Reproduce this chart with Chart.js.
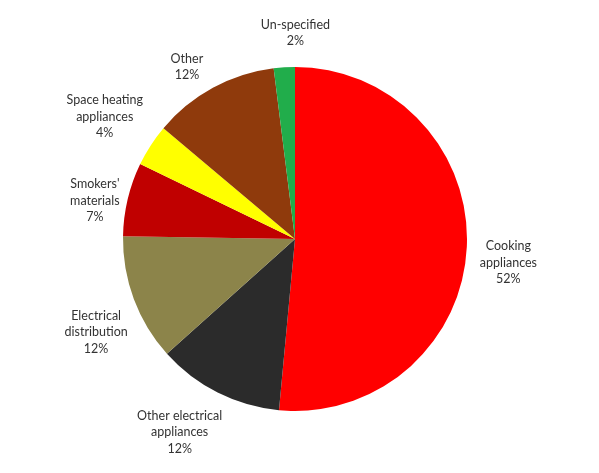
<!DOCTYPE html>
<html lang="en">
  <head>
    <meta charset="UTF-8" />
    <title>Causes of fires</title>
    <script src="https://cdn.jsdelivr.net/npm/chart.js"></script>
    <style>
      html, body {
        margin: 0;
        padding: 0;
        background: #ffffff;
      }
      #chart {
        display: block;
      }
    </style>
  </head>
  <body>
    <canvas id="chart" width="599" height="473"></canvas>

    <script>
      // Slices clockwise from 12 o'clock
      const categories = [
        ["Cooking", "appliances"],
        ["Other electrical", "appliances"],
        ["Electrical", "distribution"],
        ["Smokers'", "materials"],
        ["Space heating", "appliances"],
        ["Other"],
        ["Un-specified"]
      ];
      const shares = [52, 12, 12, 7, 4, 12, 2];
      const sliceColors = [
        "#ff0000",
        "#2b2b2b",
        "#8c844a",
        "#c00000",
        "#ffff00",
        "#8f3a0c",
        "#21ad4b"
      ];

      // Small hand nudges for each label, as in the original layout
      const labelNudges = [
        [0, 14],
        [-13, 6],
        [4, 20],
        [4, 10],
        [-3, -8],
        [-12, 5],
        [14, -5]
      ];

      // Draws the "name / NN%" labels just outside each slice
      const outsideLabels = {
        id: "outsideLabels",
        afterDatasetsDraw(chart, args, opts) {
          const ctx = chart.ctx;
          const meta = chart.getDatasetMeta(0);
          const lineH = opts.lineHeight;
          ctx.save();
          ctx.font = opts.font;
          ctx.fillStyle = opts.color;
          ctx.textAlign = "center";
          ctx.textBaseline = "middle";
          meta.data.forEach((arc, i) => {
            const lines = categories[i].concat([shares[i] + "%"]);
            const w = Math.max(...lines.map(t => ctx.measureText(t).width));
            const h = lines.length * lineH;
            const mid = (arc.startAngle + arc.endAngle) / 2;
            const cos = Math.cos(mid);
            const sin = Math.sin(mid);
            const r = arc.outerRadius + opts.gap;
            const nudge = labelNudges[i] || [0, 0];
            const cx = arc.x + cos * r + cos * w / 2 + nudge[0];
            const cy = arc.y + sin * r + sin * h / 2 + nudge[1];
            lines.forEach((t, k) => {
              ctx.fillText(t, cx, cy - h / 2 + lineH * (k + 0.5));
            });
          });
          ctx.restore();
        }
      };

      new Chart(document.getElementById("chart"), {
        type: "pie",
        data: {
          labels: categories.map(c => c.join(" ")),
          datasets: [
            {
              data: shares,
              backgroundColor: sliceColors,
              borderWidth: 0
            }
          ]
        },
        options: {
          responsive: false,
          animation: false,
          rotation: 0,
          layout: {
            padding: { top: 67, bottom: 62, left: 123, right: 132 }
          },
          plugins: {
            legend: { display: false },
            tooltip: { enabled: false },
            outsideLabels: {
              font: "12.5px Lato, 'Open Sans', sans-serif",
              color: "#333333",
              lineHeight: 16.5,
              gap: 13
            }
          }
        },
        plugins: [outsideLabels]
      });
    </script>
  </body>
</html>
